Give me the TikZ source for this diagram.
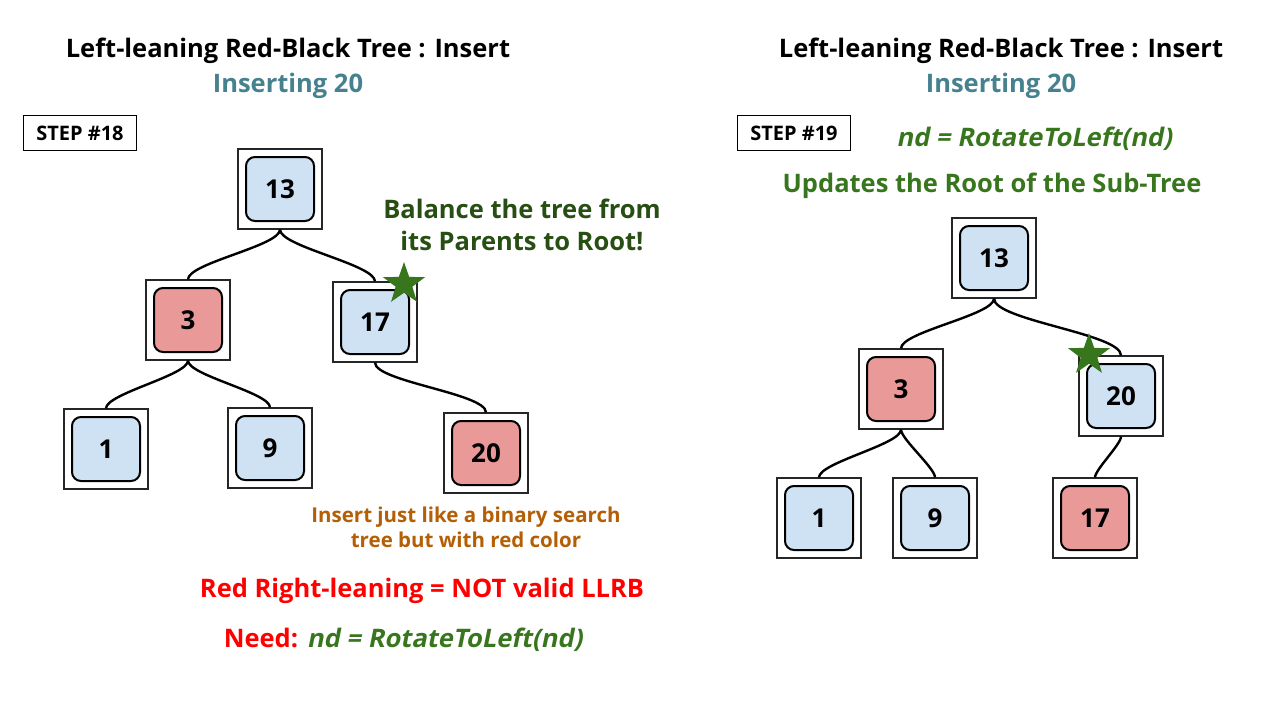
\documentclass[tikz,border=0pt]{standalone}
\usepackage{fontspec}
\setmainfont{Open Sans}
\newfontfamily\obliquefont{Open Sans}[FakeSlant=0.2]
\usetikzlibrary{positioning, shapes.geometric}
\definecolor{blackfill}{HTML}{CFE2F3}
\definecolor{redfill}{HTML}{EA9999}
\definecolor{stargreen}{HTML}{38761D}
\definecolor{notegreen}{HTML}{274E13}
\definecolor{noteorange}{HTML}{B45F06}
\definecolor{subteal}{HTML}{45818E}
\definecolor{warnred}{HTML}{FF0000}
\tikzset{
    keyframe/.style={draw=black!85, line width=1.2pt, fill=white, minimum width=84pt, minimum height=80pt, inner sep=0pt},
    blackkey/.style={draw, rounded corners=9pt, line width=2pt, fill=blackfill, minimum width=68pt, minimum height=64pt, inner sep=0pt, font=\bfseries\fontsize{26}{26}\selectfont},
    redkey/.style={blackkey, fill=redfill},
    treeedge/.style={line width=2.4pt, looseness=0.4},
    stepbox/.style={draw, line width=1.5pt, minimum width=113pt, minimum height=35pt, inner sep=0pt, font=\bfseries\fontsize{20}{20}\selectfont},
    marker/.style={star, star points=5, star point ratio=2.5, fill=stargreen, minimum size=44pt, inner sep=0pt},
    headline/.style={font=\bfseries\fontsize{25.5}{25.5}\selectfont},
    subline/.style={headline, text=subteal},
    notetext/.style={font=\bfseries\fontsize{25.5}{32}\selectfont, align=center}
}
\newcommand{\rotcall}{{\obliquefont\bfseries nd = RotateToLeft(nd)}}

\begin{document}
\begin{tikzpicture}[x=1pt, y=-1pt]
  \useasboundingbox (0,0) rectangle (1279,712);
  % step 18
  \node[headline] (t18)  at (288,51) {Left-leaning Red-Black Tree : Insert};
  \node[subline]  (s18)  at (288,86) {Inserting 20};
  \node[stepbox]  (st18) at (80,133) {STEP \#18};
  \node[keyframe] (a13) at (280,189) {};
  \node[keyframe] (a3)  at (188,320) {};
  \node[keyframe] (a17) at (375,322) {};
  \node[keyframe] (a1)  at (106,449) {};
  \node[keyframe] (a9)  at (270,448) {};
  \node[keyframe] (a20) at (486,453) {};
  \node[blackkey] (k13) at (a13) {13};
  \node[redkey]   (k3)  at (a3)  {3};
  \node[blackkey] (k17) at (a17) {17};
  \node[blackkey] (k1)  at (a1)  {1};
  \node[blackkey] (k9)  at (a9)  {9};
  \node[redkey]   (k20) at (a20) {20};
  \draw[treeedge] (a13.south) to[out=-90, in=90] (a3.north);
  \draw[treeedge] (a13.south) to[out=-90, in=90] (a17.north);
  \draw[treeedge] (a3.south)  to[out=-90, in=90] (a1.north);
  \draw[treeedge] (a3.south)  to[out=-90, in=90] (a9.north);
  \draw[treeedge] (a17.south) to[out=-90, in=90] (a20.north);
  \node[marker] (m18) at (404,284) {};
  \node[notetext, text=notegreen] (bal) at (522,225) {Balance the tree from\\its Parents to Root!};
  \node[notetext, text=noteorange, font=\bfseries\fontsize{20.5}{25}\selectfont] (ins) at (466,527) {Insert just like a binary search\\tree but with red color};
  \node[notetext, text=warnred] (bad) at (422,591) {Red Right-leaning = NOT valid LLRB};
  \node[notetext, text=warnred] (need) at (403,640) {Need: \textcolor{stargreen}{\rotcall}};
  % step 19
  \node[headline] (t19)  at (1001,51) {Left-leaning Red-Black Tree : Insert};
  \node[subline]  (s19)  at (1001,86) {Inserting 20};
  \node[stepbox]  (st19) at (794,133) {STEP \#19};
  \node[notetext, text=stargreen] (rot) at (1034,139) {\rotcall};
  \node[notetext, text=stargreen] (upd) at (992,186) {Updates the Root of the Sub-Tree};
  \node[keyframe] (b13) at (994,258) {};
  \node[keyframe] (b3)  at (901,389) {};
  \node[keyframe] (b20) at (1121,396) {};
  \node[keyframe] (b1)  at (819,518) {};
  \node[keyframe] (b9)  at (935,518) {};
  \node[keyframe] (b17) at (1095,518) {};
  \node[blackkey] (j13) at (b13) {13};
  \node[redkey]   (j3)  at (b3)  {3};
  \node[blackkey] (j20) at (b20) {20};
  \node[blackkey] (j1)  at (b1)  {1};
  \node[blackkey] (j9)  at (b9)  {9};
  \node[redkey]   (j17) at (b17) {17};
  \draw[treeedge] (b13.south) to[out=-90, in=90] (b3.north);
  \draw[treeedge] (b13.south) to[out=-90, in=90] (b20.north);
  \draw[treeedge] (b3.south)  to[out=-90, in=90] (b1.north);
  \draw[treeedge] (b3.south)  to[out=-90, in=90] (b9.north);
  \draw[treeedge] (b20.south) to[out=-90, in=90] (b17.north);
  \node[marker] (m19) at (1089,355) {};
\end{tikzpicture}
\end{document}
